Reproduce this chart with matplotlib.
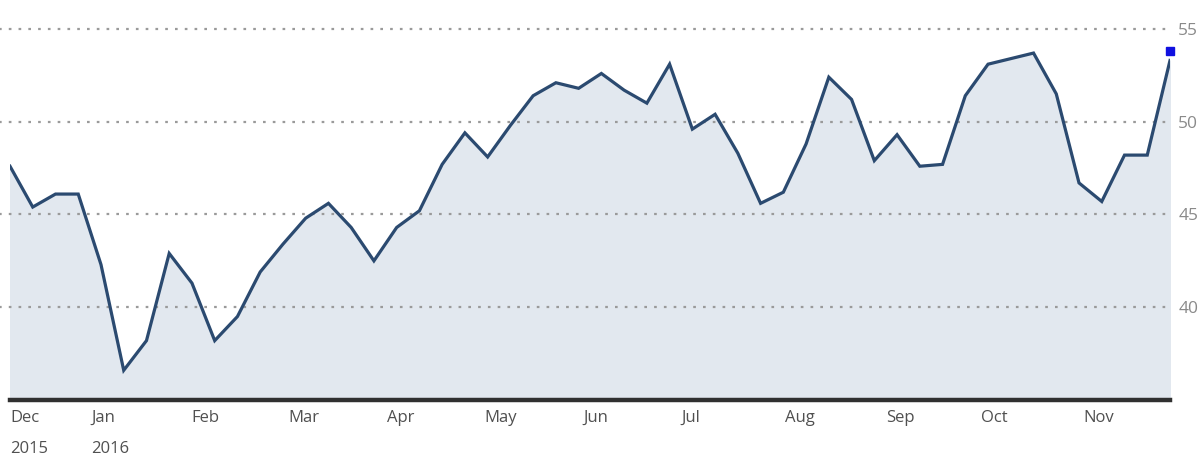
import matplotlib
matplotlib.use("Agg")
import matplotlib.pyplot as plt
import numpy as np

# Weekly index values (Dec 2015 - Nov 2016)
values = [47.6, 45.4, 46.1, 46.1, 42.3, 36.6, 38.2, 42.9, 41.3, 38.2,
          39.5, 41.9, 43.4, 44.8, 45.6, 44.3, 42.5, 44.3, 45.2, 47.7,
          49.4, 48.1, 49.8, 51.4, 52.1, 51.8, 52.6, 51.7, 51.0, 53.1,
          49.6, 50.4, 48.3, 45.6, 46.2, 48.8, 52.4, 51.2, 47.9, 49.3,
          47.6, 47.7, 51.4, 53.1, 53.4, 53.7, 51.5, 46.7, 45.7, 48.2,
          48.2, 53.3]
latest_marker = 53.8

month_labels = ["Dec\n2015", "Jan\n2016", "Feb", "Mar", "Apr", "May",
                "Jun", "Jul", "Aug", "Sep", "Oct", "Nov"]
month_pos = [0.0, 3.56, 7.99, 12.22, 16.57, 20.84, 25.19, 29.5, 34.07,
             38.5, 42.7, 47.2]
y_ticks = [40, 45, 50, 55]

x = np.arange(len(values))

fig = plt.figure(figsize=(12.03, 4.66), dpi=100)
ax = fig.add_axes([10/1203, 66/466, 1160/1203, 400/466])

ax.set_xlim(0, len(values) - 1)
ax.set_ylim(35, 56.56)

ax.fill_between(x, values, 35, color="#e2e8ef", zorder=1)
ax.plot(x, values, color="#2b4a70", lw=2.3, solid_joinstyle="miter", zorder=3)
ax.plot([x[-1]], [latest_marker], marker="s", ms=6, color="#1010e0",
        ls="none", zorder=4, clip_on=False)

for yt in y_ticks:
    ax.plot([-0.5, len(values) - 1], [yt, yt], ls=(0, (1.2, 3.2)), lw=1.6,
            color="#9a9a9a", zorder=2, clip_on=False)

for s in ["top", "left", "right"]:
    ax.spines[s].set_visible(False)
ax.spines["bottom"].set_linewidth(3.2)
ax.spines["bottom"].set_color("#303030")

ax.yaxis.tick_right()
ax.set_yticks(y_ticks)
ax.set_yticklabels([str(v) for v in y_ticks], fontsize=12.5, color="#8a8a8a",
                   family="Open Sans")
ax.tick_params(axis="y", length=0, pad=6)

ax.set_xticks(month_pos)
ax.set_xticklabels(month_labels, fontsize=12, color="#505050",
                   family="Open Sans", ha="left", linespacing=2.3)
ax.tick_params(axis="x", length=0, pad=7)

fig.savefig("out.png", dpi=100)
